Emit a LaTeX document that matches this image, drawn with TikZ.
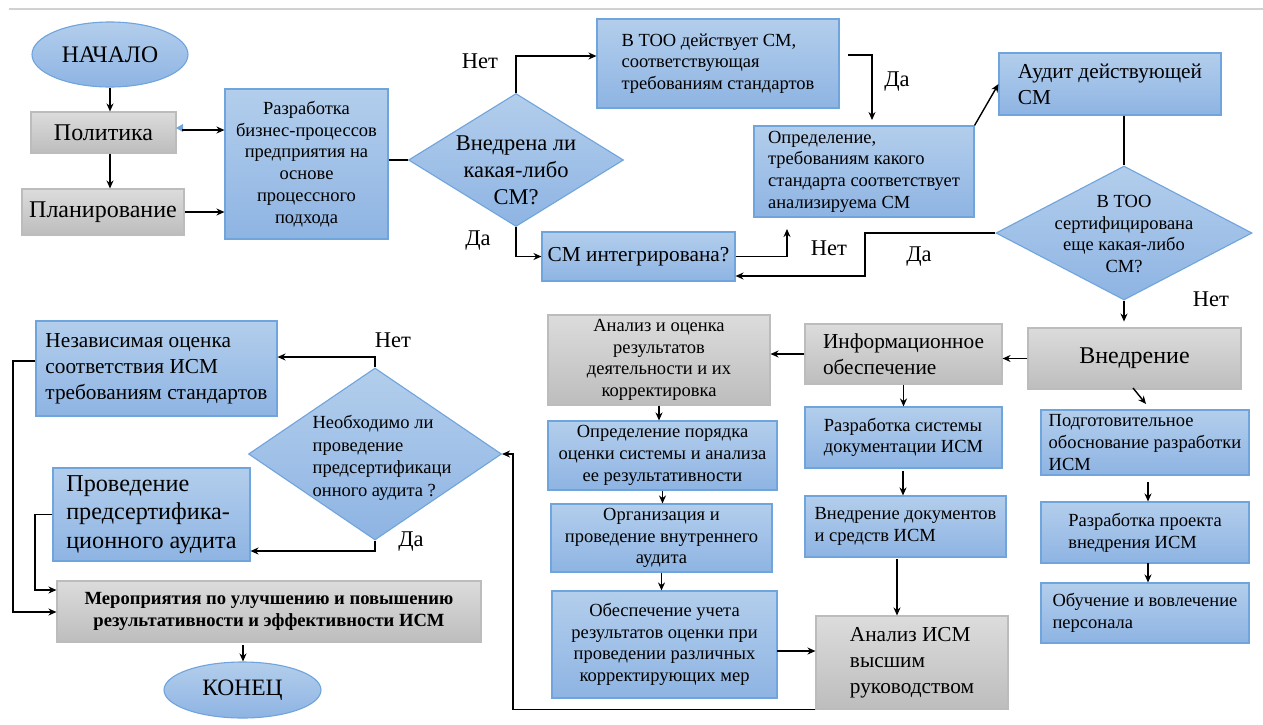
\documentclass[tikz,border=0pt]{standalone}
\usepackage{fontspec}
\setmainfont{Liberation Serif}
\usetikzlibrary{shapes.geometric,arrows.meta,calc}
\definecolor{blueT}{HTML}{B3CEEC}
\definecolor{blueB}{HTML}{8EB4E3}
\definecolor{blueD}{HTML}{6FA4DD}
\definecolor{grayT}{HTML}{DCDCDC}
\definecolor{grayB}{HTML}{BDBDBD}
\definecolor{grayD}{HTML}{BCBCBC}
\newcommand{\fsz}[2]{\fontsize{#1}{#2}\selectfont}
\begin{document}
\begin{tikzpicture}[x=1pt,y=-1pt,
  bbox/.style={draw=blueD, line width=1.1pt, top color=blueT, bottom color=blueB, inner xsep=2pt, inner ysep=0pt, align=left},
  gbox/.style={draw=grayD, line width=1.1pt, top color=grayT, bottom color=grayB, inner xsep=2pt, inner ysep=0pt, align=center},
  dia/.style={diamond, draw=blueD, line width=1.1pt, top color=blueT, bottom color=blueB, inner sep=0pt},
  ell/.style={ellipse, draw=blueD, line width=1.1pt, top color=blueT, bottom color=blueB, inner sep=0pt},
  arr/.style={draw=black, line width=1.4pt, -{Stealth[length=8pt,width=7pt]}},
  ln/.style={draw=black, line width=1.4pt},
  lbl/.style={font=\fsz{22.5}{26}},
  sm/.style={font=\fsz{18.5}{21.7}},
  md/.style={font=\fsz{21.3}{26}},
  lg/.style={font=\fsz{24}{28}},
]
\useasboundingbox (0,0) rectangle (1263,724);
\fill[white] (0,0) rectangle (1263,724);
\draw[color=black!18, line width=1.2pt] (9,9) -- (1263,9);

% nodes
\node[ell, minimum width=156, minimum height=65, font=\fsz{23.7}{28}] (start) at (110,54.5) {НАЧАЛО};
\node[gbox, minimum width=145, minimum height=41, lg] (pol) at (103.5,132.5) {Политика};
\node[gbox, minimum width=162, minimum height=46, lg] (plan) at (103,212) {Планирование};
\node[bbox, align=center, minimum width=163, minimum height=150, sm] (razr) at (306.5,164) {Разработка\\бизнес-процессов\\предприятия на\\основе\\процессного\\подхода};
\node[dia, minimum width=215, minimum height=133] (d1) at (516,160) {};
\node[font=\fsz{22.5}{27}, align=center] (d1t) at (516,170) {Внедрена ли\\какая-либо\\СМ?};
\node[bbox, minimum width=242, minimum height=89, sm] (too) at (718,63.5) {В ТОО действует СМ,\\соответствующая\\требованиям стандартов};
\node[bbox, minimum width=193, minimum height=49, md] (integ) at (638.5,256.5) {СМ интегрирована?};
\node[bbox, minimum width=220, minimum height=91, sm] (opr) at (864,171.5) {Определение,\\требованиям какого\\стандарта соответствует\\анализируема СМ};
\node[bbox, minimum width=222, minimum height=62, md] (aud) at (1110,84) {Аудит действующей\\СМ};
\node[dia, minimum width=256, minimum height=134] (d2) at (1124,233) {};
\node[sm, align=center] (d2t) at (1124,234) {В ТОО\\сертифицирована\\еще какая-либо\\СМ?};
\node[gbox, minimum width=213, minimum height=61, lg] (vn) at (1134.5,358.5) {Внедрение};
\node[gbox, align=left, minimum width=197, minimum height=60, md] (info) at (903.5,354) {Информационное\\обеспечение};
\node[gbox, minimum width=222, minimum height=90, sm] (anal) at (659,360) {Анализ и оценка\\результатов\\деятельности и их\\корректировка};
\node[bbox, align=center, minimum width=229, minimum height=69, sm] (oppor) at (662.5,455.5) {Определение порядка\\оценки системы и анализа\\ее результативности};
\node[bbox, align=center, minimum width=221, minimum height=68, sm] (org) at (661.5,538) {Организация и\\проведение внутреннего\\аудита};
\node[bbox, align=center, minimum width=225, minimum height=107, sm] (obesp) at (664.5,644.5) {Обеспечение учета\\результатов оценки при\\проведении различных\\корректирующих мер};
\node[bbox, minimum width=197, minimum height=61, sm] (rsys) at (903.5,437.5) {Разработка системы\\документации ИСМ};
\node[bbox, minimum width=201, minimum height=61, sm] (vdoc) at (905.5,526.5) {Внедрение документов\\и средств ИСМ};
\node[gbox, align=left, minimum width=192, minimum height=93, md] (ansm) at (912,662.5) {Анализ ИСМ\\высшим\\руководством};
\node[bbox, minimum width=208, minimum height=65, sm] (podg) at (1145,442.5) {Подготовительное\\обоснование разработки\\ИСМ};
\node[bbox, minimum width=208, minimum height=61, sm] (rpv) at (1145,532.5) {Разработка проекта\\внедрения ИСМ};
\node[bbox, minimum width=208, minimum height=60, sm] (obu) at (1145,613) {Обучение и вовлечение\\персонала};
\node[dia, minimum width=253, minimum height=172] (d3) at (375,454) {};
\node[font=\fsz{18.5}{22.5}, align=left] (d3t) at (382,458) {Необходимо ли\\проведение\\предсертификаци\\онного аудита ?};
\node[bbox, minimum width=241, minimum height=95, md] (nez) at (156.5,368.5) {Независимая оценка\\соответствия ИСМ\\требованиям стандартов};
\node[bbox, minimum width=197, minimum height=93, font=\fsz{24.2}{28.5}] (prov) at (151.5,514.5) {Проведение\\предсертифика-\\ционного аудита};
\node[gbox, minimum width=424, minimum height=61, font=\fsz{18.6}{22.5}\bfseries] (mer) at (269,611.5) {Мероприятия по улучшению и повышению\\результативности и эффективности ИСМ};
\node[ell, minimum width=157, minimum height=56, font=\fsz{23.5}{28}] (end) at (242.5,690) {КОНЕЦ};

% labels
\node[lbl] (l1) at (480,61) {Нет};
\node[lbl] (l2) at (478,241) {Да};
\node[lbl] (l3) at (897,82) {Да};
\node[lbl] (l4) at (829,248) {Нет};
\node[lbl] (l5) at (919,257) {Да};
\node[lbl] (l6) at (1211,299) {Нет};
\node[lbl] (l7) at (393,340) {Нет};
\node[lbl] (l8) at (411,542) {Да};

% helper coordinates
\coordinate (a1) at (182,130);
\coordinate (a2) at (0,56);
\coordinate (a3) at (787,229);
\coordinate (a4) at (865,276);
\coordinate (a5) at (848,55);
\coordinate (a6) at (872,120);
\coordinate (a7) at (777,651);
\coordinate (a8) at (513,0);
\coordinate (a12) at (1133,388);
\coordinate (a13) at (1146,404);
\coordinate (a14) at (1148,482);
\coordinate (a15) at (1148,563);
\coordinate (a16) at (0,357);
\coordinate (a17) at (0,551);
\coordinate (a18) at (35,590);
\coordinate (a19) at (13,612);
\coordinate (a20) at (0,361);
\coordinate (a21) at (243,645);
\coordinate (a22) at (903,471);
\coordinate (a23) at (897,559);

% connectors
\draw[arr] (start.south) -- (start.south |- pol.north);
\draw[arr] (start.south |- pol.south) -- (start.south |- plan.north);
\fill[blueD] (176,128) -- (183,124) -- (183,132) -- cycle;
\draw[arr] (a1) -- (a1 -| razr.west);
\draw[arr] (plan.east) -- (plan.east -| razr.west);
\draw[ln] (razr.east |- d1.west) -- (d1.west);
\draw[arr] (d1.north) |- (a2 -| too.west);
\draw[arr] (d1.south) |- (integ.west);
\draw[arr] (integ.east) -| (a3);
\draw[arr] (d2.west) -| (a4) -- (a4 -| integ.east);
\draw[arr] (a5) -| (a6);
\draw[arr] (opr.north east) -- (aud.west);
\draw[ln] (d2.north |- aud.south) -- (d2.north);
\draw[arr] (d2.south) -- ++(0,21);
\draw[arr] (vn.west) -- (vn.west -| info.east);
\draw[arr] (info.west) -- (info.west -| anal.east);
\draw[arr] (anal.south) -- (anal.south |- oppor.north);
\draw[arr] (oppor.south) -- (oppor.south |- org.north);
\draw[arr] (org.south) -- (org.south |- obesp.north);
\draw[arr] (a7) -- (a7 -| ansm.west);
\draw[arr] (ansm.south west) -| (a8 |- d3.east) -- (d3.east);
\draw[arr] (info.south) -- (info.south |- rsys.north);
\draw[arr] (a22) -- (a22 |- vdoc.north);
\draw[arr] (a23) -- (a23 |- ansm.north);
\draw[arr] (a12) -- (a13);
\draw[arr] (a14) -- (a14 |- rpv.north);
\draw[arr] (a15) -- (a15 |- obu.north);
\draw[arr] (d3.north) |- (a16 -| nez.east);
\draw[arr] (d3.south) |- (a17 -| prov.east);
\draw[arr] (prov.west) -| (a18) -- (a18 -| mer.west);
\draw[arr] (a20 -| nez.west) -| (a19) -- (a19 -| mer.west);
\draw[arr] (a21) -- (a21 |- end.north);
\end{tikzpicture}
\end{document}
